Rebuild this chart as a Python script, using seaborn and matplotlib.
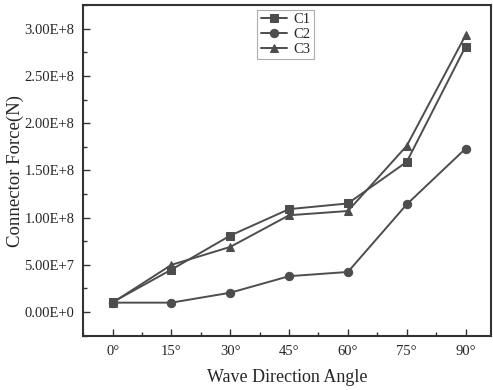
import matplotlib
matplotlib.use("Agg")
import matplotlib.pyplot as plt
import seaborn as sns
import pandas as pd
import math
from matplotlib.ticker import MultipleLocator, FuncFormatter

angles = [0, 15, 30, 45, 60, 75, 90]
angle_labels = ["0°", "15°", "30°", "45°", "60°", "75°", "90°"]
c1 = [1.05e7, 4.5e7, 8.1e7, 1.09e8, 1.15e8, 1.59e8, 2.81e8]
c2 = [1.0e7, 1.0e7, 2.05e7, 3.8e7, 4.25e7, 1.14e8, 1.73e8]
c3 = [1.0e7, 5.0e7, 6.9e7, 1.025e8, 1.07e8, 1.76e8, 2.93e8]

df = pd.concat([
    pd.DataFrame({"angle": angles, "force": c1, "series": "C1"}),
    pd.DataFrame({"angle": angles, "force": c2, "series": "C2"}),
    pd.DataFrame({"angle": angles, "force": c3, "series": "C3"}),
])

sns.set_style("ticks")
plt.rcParams["font.family"] = ["Liberation Serif", "DejaVu Serif"]

col = "#4d4d4d"
fig = plt.figure(figsize=(4.93, 3.90), dpi=100)
ax = fig.add_axes([0.168, 0.138, 0.828, 0.849])

sns.lineplot(data=df, x="angle", y="force", hue="series", style="series",
             markers={"C1": "s", "C2": "o", "C3": "^"}, dashes=False,
             palette={"C1": col, "C2": col, "C3": col},
             markersize=6, linewidth=1.4, markeredgecolor=col, ax=ax)

ax.set_xlim(-7.6, 96.5)
ax.set_ylim(-2.55e7, 3.25e8)
ax.set_xticks(angles)
ax.set_xticklabels(angle_labels)
ax.xaxis.set_minor_locator(MultipleLocator(7.5))
ax.yaxis.set_major_locator(MultipleLocator(5e7))
ax.yaxis.set_minor_locator(MultipleLocator(2.5e7))

def fmt(v, pos):
    if abs(v) < 1:
        return "0.00E+0"
    e = int(math.floor(math.log10(abs(v))))
    m = v / 10**e
    return f"{m:.2f}E+{e}"
ax.yaxis.set_major_formatter(FuncFormatter(fmt))

ax.tick_params(which="both", direction="in", color="#333333", width=1.0)
ax.tick_params(which="major", length=5, labelsize=10.5, pad=6)
ax.tick_params(which="minor", length=3)
for s in ax.spines.values():
    s.set_visible(True)
    s.set_linewidth(1.5)
    s.set_color("#333333")

ax.set_xlabel("Wave Direction Angle", fontsize=13, labelpad=8)
ax.set_ylabel("Connector Force(N)", fontsize=13.5)
ax.yaxis.set_label_coords(-0.145, 0.5)

leg = ax.legend(loc="upper left", bbox_to_anchor=(0.42, 0.995), fontsize=10.5,
                frameon=True, fancybox=False, handlelength=1.8,
                borderpad=0.25, labelspacing=0.1, handletextpad=0.4,
                borderaxespad=0.2)
leg.get_frame().set_edgecolor("#999999")
leg.get_frame().set_linewidth(0.8)

fig.savefig("out.png", dpi=100)
